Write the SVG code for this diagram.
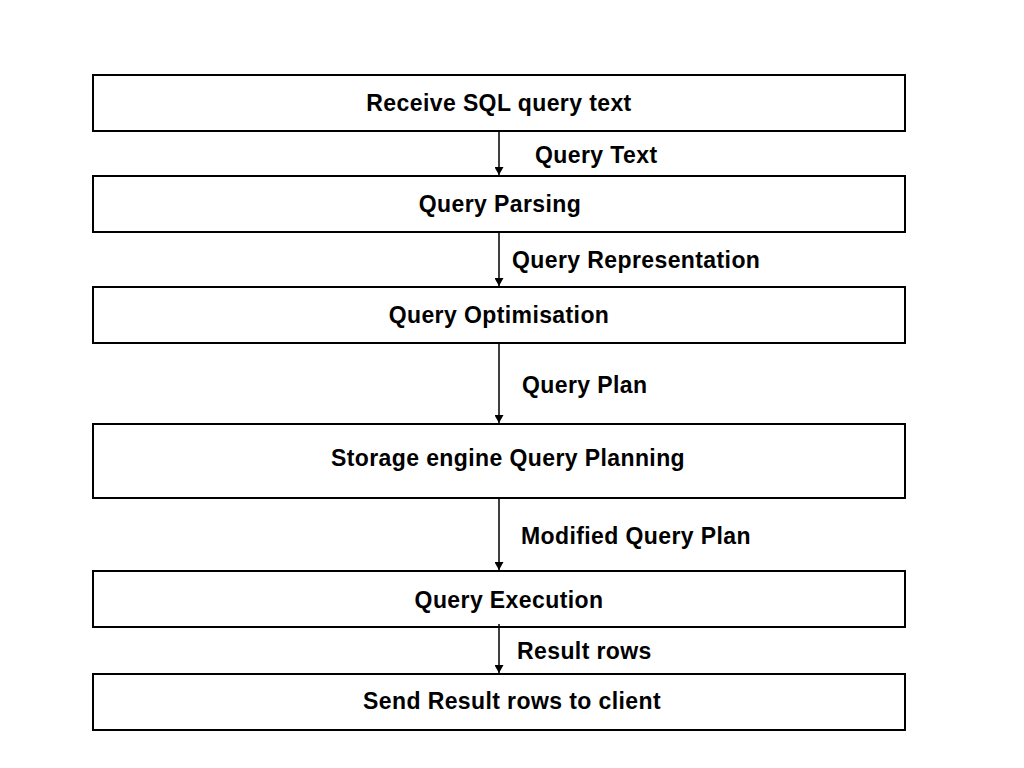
<svg xmlns="http://www.w3.org/2000/svg" width="1024" height="768" viewBox="0 0 1024 768">
<defs>
<marker id="ah" markerWidth="8" markerHeight="9" refX="8" refY="4.5" orient="auto" markerUnits="userSpaceOnUse">
<path d="M0,0 L8,4.5 L0,9 Z" fill="#000"/>
</marker>
<style>
.box{fill:#fff;stroke:#000;stroke-width:2}
.t{font-family:"Liberation Sans",Arial,sans-serif;font-weight:bold;font-size:23px;letter-spacing:0.4px;fill:#000}
.c{text-anchor:middle}
.e{stroke:#000;stroke-width:1.5;fill:none;marker-end:url(#ah)}
</style>
</defs>
<rect width="1024" height="768" fill="#fff"/>
<g id="n1"><rect class="box" x="93" y="75" width="812" height="56"/><text class="t c" x="499" y="111">Receive SQL query text</text></g>
<g id="n2"><rect class="box" x="93" y="176" width="812" height="56"/><text class="t c" x="500" y="212">Query Parsing</text></g>
<g id="n3"><rect class="box" x="93" y="287" width="812" height="56"/><text class="t c" x="499" y="323">Query Optimisation</text></g>
<g id="n4"><rect class="box" x="93" y="424" width="812" height="74"/><text class="t c" x="508" y="466">Storage engine Query Planning</text></g>
<g id="n5"><rect class="box" x="93" y="571" width="812" height="56"/><text class="t c" x="509" y="608">Query Execution</text></g>
<g id="n6"><rect class="box" x="93" y="674" width="812" height="56"/><text class="t c" x="512" y="709">Send Result rows to client</text></g>
<g id="connectors">
<line class="e" x1="499" y1="131" x2="499" y2="175"/>
<line class="e" x1="499" y1="232" x2="499" y2="286"/>
<line class="e" x1="499" y1="343" x2="499" y2="423"/>
<line class="e" x1="499" y1="498" x2="499" y2="570"/>
<line class="e" x1="499" y1="624" x2="499" y2="673"/>
<text class="t" x="535" y="163">Query Text</text>
<text class="t" x="512" y="268">Query Representation</text>
<text class="t" x="522" y="393">Query Plan</text>
<text class="t" x="521" y="544">Modified Query Plan</text>
<text class="t" x="517" y="659">Result rows</text>
</g>
</svg>
